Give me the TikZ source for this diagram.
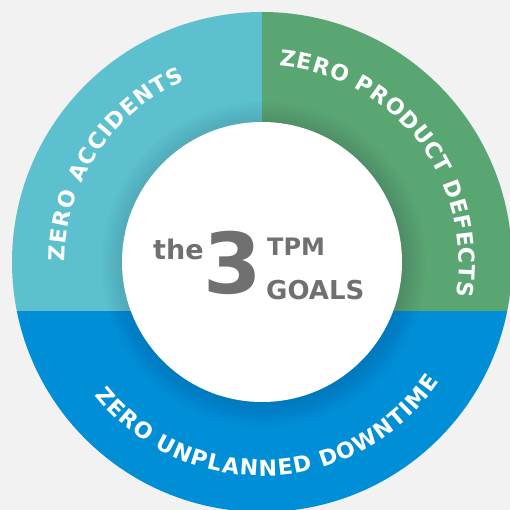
\documentclass[tikz,border=0pt]{standalone}
\usepackage{fontspec}
\setmainfont{DejaVu Sans}
\usetikzlibrary{decorations.text,calc}
\definecolor{bgc}{RGB}{242,242,242}
\definecolor{tealc}{RGB}{92,192,206}
\definecolor{greenc}{RGB}{90,166,115}
\definecolor{bluec}{RGB}{0,142,214}
\definecolor{grayc}{RGB}{112,112,112}
\newcommand\myarcfmt{\bfseries\fontsize{22}{25}\selectfont\color{white}}
\tikzset{
  arctext/.style={decorate,decoration={text along path, text align=fit to path, text color=white, text={|\myarcfmt|#1}}},
  centertext/.style={anchor=base west, inner sep=0pt, text=grayc, font=\bfseries\fontsize{#1}{#1}\selectfont}
}
\begin{document}
\begin{tikzpicture}[x=1pt,y=1pt]
\fill[bgc] (0,0) rectangle (510,510);
\useasboundingbox (0,0) rectangle (510,510);
\coordinate (C) at (262,248);
\begin{scope}
  \clip (0,198) rectangle (262,510);
  \fill[tealc] (C) circle (250pt);
\end{scope}
\begin{scope}
  \clip (262,198) rectangle (510,510);
  \fill[greenc] (C) circle (250pt);
\end{scope}
\begin{scope}
  \clip (0,0) rectangle (510,198);
  \fill[bluec] (C) circle (250pt);
\end{scope}
% soft shadow round the inner disc
\foreach \k [evaluate=\k as \rr using 141+2*\k] in {0,...,11}{
  \fill[black,opacity=0.008] ($(C)+(2pt,-2pt)$) circle (\rr pt);
}
\fill[white] (C) circle (140pt);
% arc labels
\path[arctext={ZERO ACCIDENTS}] ($(C)+(180:197pt)$) arc[start angle=180, end angle=113, radius=197pt];
\path[arctext={ZERO PRODUCT DEFECTS}] ($(C)+(85:197pt)$) arc[start angle=85, end angle=-10, radius=197pt];
\path[arctext={ZERO UNPLANNED DOWNTIME}] ($(C)+(218.5:214pt)$) arc[start angle=218.5, end angle=326, radius=214pt];
% centre
\node[centertext=27] (the) at (153,250) {the};
\node[centertext=84] (three) at (203,216) {3};
\node[centertext=24] (tpm) at (267,254) {TPM};
\node[centertext=26] (goals) at (266,210) {GOALS};
\end{tikzpicture}
\end{document}
